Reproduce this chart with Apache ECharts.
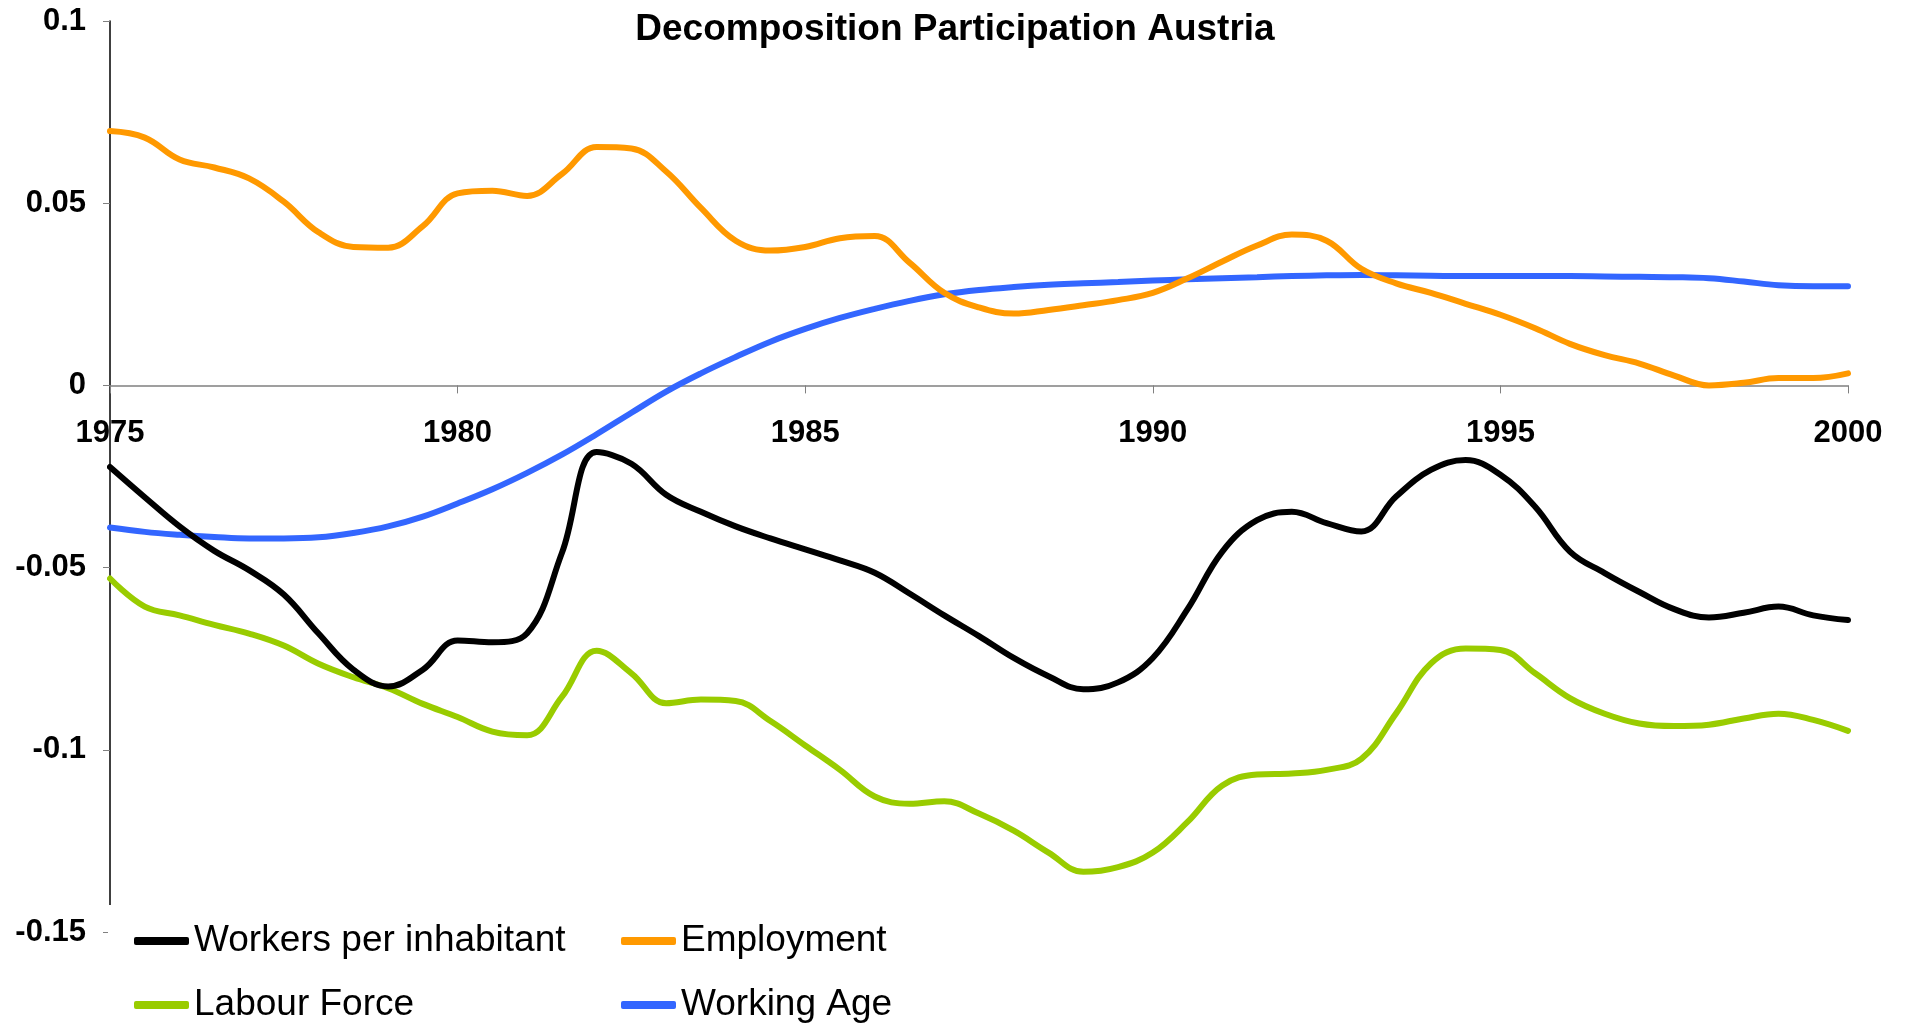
<!DOCTYPE html>
<html>
<head>
<meta charset="utf-8">
<script src="https://cdn.jsdelivr.net/npm/echarts@6/dist/echarts.min.js"></script>
<style>
html,body{margin:0;padding:0;background:#fff;}
#chart{width:1910px;height:1032px;}
</style>
</head>
<body>
<div id="chart"></div>
<script>
const years = [1975,1975.5,1976,1976.5,1977,1977.5,1978,1978.5,1979,1979.5,1980,1980.5,1981,1981.5,1982,1982.5,1983,1983.5,1984,1984.5,1985,1985.5,1986,1986.5,1987,1987.5,1988,1988.5,1989,1989.5,1990,1990.5,1991,1991.5,1992,1992.5,1993,1993.5,1994,1994.5,1995,1995.5,1996,1996.5,1997,1997.5,1998,1998.5,1999,1999.5,2000];

const workersPerInhabitant = [-0.0224,-0.0307,-0.0387,-0.0454,-0.0507,-0.0574,-0.0681,-0.078,-0.0826,-0.078,-0.0700,-0.0705,-0.0680,-0.0460,-0.0183,-0.0215,-0.0300,-0.0347,-0.0387,-0.042,-0.045,-0.048,-0.0514,-0.0571,-0.0631,-0.0688,-0.0748,-0.0798,-0.0834,-0.0815,-0.0748,-0.0614,-0.0456,-0.0370,-0.0347,-0.0378,-0.0401,-0.0305,-0.0232,-0.0205,-0.0245,-0.0333,-0.0456,-0.0515,-0.0567,-0.0614,-0.0637,-0.0624,-0.0607,-0.0631,-0.0644];

const employment = [0.0698,0.068,0.062,0.0598,0.0568,0.0504,0.042,0.038,0.0378,0.0437,0.0527,0.0534,0.052,0.058,0.0654,0.065,0.0587,0.0487,0.0397,0.037,0.038,0.0404,0.041,0.0337,0.0254,0.0214,0.0197,0.0207,0.022,0.0234,0.0254,0.0294,0.034,0.0384,0.0414,0.0397,0.032,0.028,0.0254,0.0224,0.0194,0.0157,0.0114,0.0083,0.006,0.0027,0.0,0.0007,0.002,0.002,0.0033];

const labourForce = [-0.053,-0.0607,-0.0631,-0.0657,-0.0681,-0.0714,-0.0764,-0.0801,-0.0831,-0.0874,-0.0910,-0.0950,-0.0960,-0.0855,-0.0728,-0.0790,-0.0872,-0.0862,-0.0866,-0.0921,-0.0988,-0.1055,-0.1128,-0.1148,-0.1141,-0.1175,-0.1222,-0.1282,-0.1335,-0.1322,-0.1282,-0.1198,-0.1098,-0.1068,-0.1065,-0.1055,-0.1025,-0.0900,-0.0763,-0.0722,-0.0726,-0.0790,-0.0858,-0.0901,-0.0928,-0.0935,-0.0931,-0.0914,-0.0901,-0.0918,-0.0948];

const workingAge = [-0.039,-0.0402,-0.041,-0.0416,-0.042,-0.042,-0.0417,-0.0405,-0.0387,-0.036,-0.0324,-0.0285,-0.024,-0.019,-0.0134,-0.0075,-0.0017,0.0033,0.0078,0.012,0.0155,0.0185,0.021,0.0232,0.025,0.0262,0.027,0.0276,0.028,0.0284,0.0288,0.0291,0.0294,0.0297,0.03,0.0302,0.0303,0.0302,0.0301,0.03,0.03,0.03,0.03,0.0299,0.0298,0.0297,0.0294,0.0285,0.0275,0.0272,0.0272];

const seriesNames = ['Workers per inhabitant','Employment','Labour Force','Working Age'];
const seriesColors = ['#000000','#FF9900','#99CC00','#3366FF'];
const seriesValues = [workersPerInhabitant, employment, labourForce, workingAge];

const FONT = '"Liberation Sans", Arial, sans-serif';
const chart = echarts.init(document.getElementById('chart'));

const GRID_TOP = 21, GRID_BOTTOM = 100, H = 1032;
const Y_MIN = -0.15, Y_MAX = 0.1;
const plotH = H - GRID_TOP - GRID_BOTTOM;
const zeroOffset = -plotH * (0 - Y_MIN) / (Y_MAX - Y_MIN);

const legendText = {fontFamily: FONT, fontSize: 37, color: '#000', lineHeight: 40};

chart.setOption({
  animation: false,
  backgroundColor: '#fff',
  title: {
    text: 'Decomposition Participation Austria',
    left: 'center', top: 11, padding: 0,
    textStyle: {fontFamily: FONT, fontSize: 37, fontWeight: 'bold', color: '#000'}
  },
  grid: {left: 110, right: 62, top: GRID_TOP, bottom: GRID_BOTTOM, containLabel: false},
  xAxis: {
    type: 'value', min: 1975, max: 2000, interval: 5,
    offset: zeroOffset,
    axisLine: {onZero: false, lineStyle: {color: '#808080', width: 1.5}},
    axisTick: {show: true, length: 8, lineStyle: {color: '#808080'}},
    axisLabel: {fontFamily: FONT, fontSize: 31, fontWeight: 'bold', color: '#000', margin: 33,
      formatter: v => String(v)},
    splitLine: {show: false}
  },
  yAxis: {
    type: 'value', min: Y_MIN, max: Y_MAX, interval: 0.05,
    axisLine: {show: true, lineStyle: {color: '#000', width: 1.5}},
    axisTick: {show: true, length: 7, lineStyle: {color: '#808080'}},
    axisLabel: {fontFamily: FONT, fontSize: 31, fontWeight: 'bold', color: '#000', margin: 24,
      formatter: v => String(parseFloat(v.toFixed(2)))},
    splitLine: {show: false}
  },
  legend: [
    {
      data: [seriesNames[0], seriesNames[2]],
      orient: 'vertical', left: 108, top: 905,
      padding: [16, 20, 0, 26],
      backgroundColor: '#fff',
      itemWidth: 55, itemHeight: 8, itemGap: 24, icon: 'roundRect',
      textStyle: legendText
    },
    {
      data: [seriesNames[1], seriesNames[3]],
      orient: 'vertical', left: 621, top: 905,
      padding: [16, 20, 0, 0],
      backgroundColor: '#fff',
      itemWidth: 55, itemHeight: 8, itemGap: 24, icon: 'roundRect',
      textStyle: legendText
    }
  ],
  series: seriesNames.map((name, k) => ({
    name: name,
    type: 'line',
    smooth: 0.4,
    showSymbol: false,
    symbol: 'none',
    color: seriesColors[k],
    lineStyle: {width: 6, color: seriesColors[k], cap: 'round'},
    z: [4, 3, 2, 1][k],
    data: years.map((y, i) => [y, seriesValues[k][i]])
  }))
});
</script>
</body>
</html>
